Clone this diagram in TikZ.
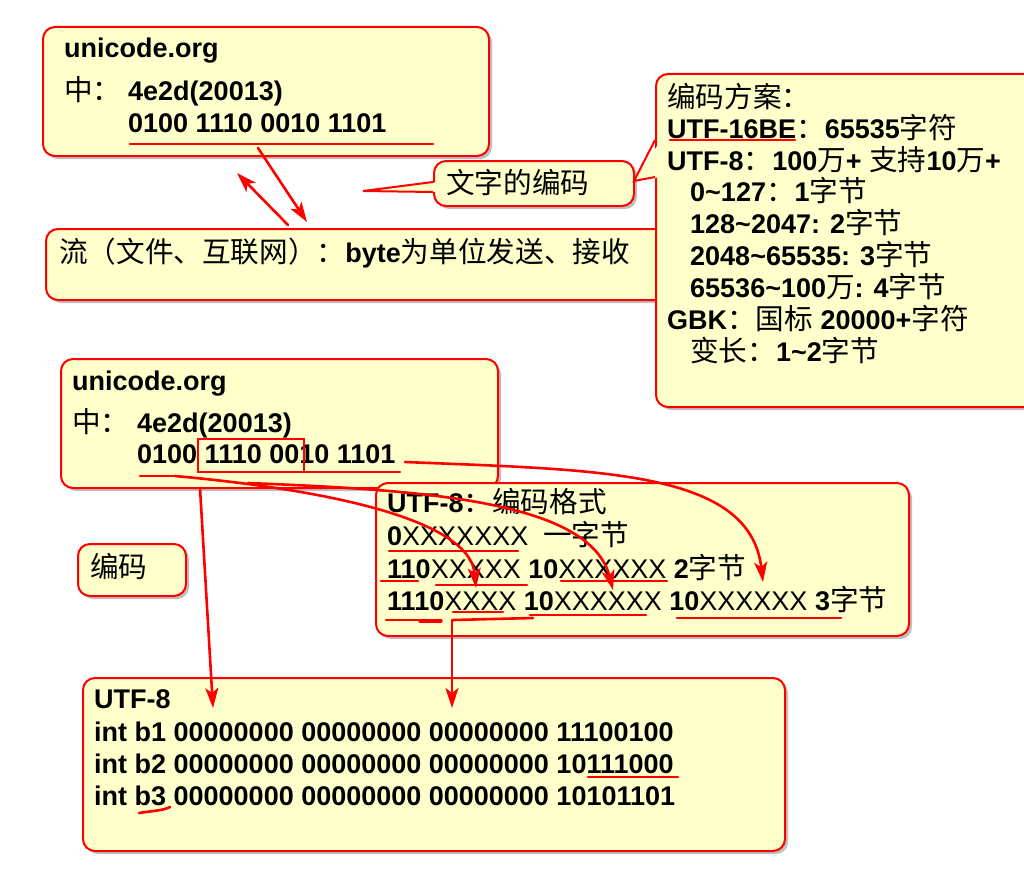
\documentclass[tikz,border=0pt]{standalone}
\usepackage{fontspec}
\setmainfont{Liberation Sans}
\newfontfamily\cjk[Scale=1.06]{Noto Sans CJK SC}
\usetikzlibrary{arrows.meta,shadows}
\definecolor{boxfill}{RGB}{255,255,204}
\newcommand\zh[1]{{\cjk\mdseries #1}}
\newcommand\rg[1]{{\mdseries #1}}
\newcommand\tld{\textasciitilde}
\newcommand\fsz{\fontsize{27pt}{32pt}\selectfont}
\tikzset{
  box/.style={draw=red, line width=2pt, fill=boxfill, rounded corners=12pt, inner sep=0pt, anchor=north west,
    drop shadow={shadow xshift=3pt, shadow yshift=-3pt, opacity=0.25, fill=black}},
  txt/.style={anchor=base west, inner sep=0pt, font=\fsz\bfseries},
  arr/.style={red, line width=2.6pt, line cap=round, -{Stealth[length=20pt,width=13pt,inset=5pt]}},
  redline/.style={red, line width=2.6pt, line cap=round},
  ptr/.style={red, line width=2pt, line join=miter},
}
\begin{document}
\begin{tikzpicture}[x=1pt,y=-1pt]
\useasboundingbox (0,0) rectangle (1024,872);
\fill[white] (0,0) rectangle (1024,872);
\clip (0,0) rectangle (1024,872);

% top unicode box
\node[box, minimum width=446pt, minimum height=129pt] (uni1) at (42,26) {};
\node[txt] (u1a) at (64,58) {unicode.org};
\node[txt] (u1b) at (64,100) {\zh{中：}};
\node[txt] (u1c) at (128,100) {4e2d(20013)};
\node[txt] (u1d) at (128,132) {0100 1110 0010 1101};
\coordinate (ul1s) at (130,144);
\coordinate (ul1e) at (433,144);
\draw[redline] (ul1s) -- (ul1e);

% stream box
\node[box, minimum width=700pt, minimum height=71pt] (flow) at (45,228) {};
\node[txt] (flowt) at (59,262) {\zh{流（文件、互联网）：}byte\zh{为单位发送、接收}};

% callout 文字的编码
\node[box, minimum width=200pt, minimum height=45pt] (enc) at (433,160) {};
\coordinate (encA) at (433,182);
\coordinate (encB) at (433,192);
\coordinate (encTip) at (363,191);
\fill[boxfill] (439,182) -- (encTip) -- (439,192) -- cycle;
\draw[ptr] (encA) -- (encTip) -- (encB);
\node[txt] (enct) at (446,193) {\zh{文字的编码}};

% right box 编码方案
\node[box, minimum width=400pt, minimum height=333pt] (scheme) at (655,73) {};
\coordinate (schA) at (655,140);
\coordinate (schB) at (655,177);
\coordinate (schTip) at (634,181);
\fill[boxfill] (661,140) -- (schTip) -- (661,177) -- cycle;
\draw[ptr] (schA) -- (schTip) -- (schB);
\node[txt] (s1) at (667,107) {\zh{编码方案：}};
\node[txt] (s2) at (667,138) {UTF-16BE\zh{：}65535\zh{字符}};
\node[txt] (s3) at (667,170) {UTF-8\zh{：}100\zh{万}+ \zh{支持}10\zh{万}+};
\node[txt] (s4) at (690,201) {0\tld127\zh{：}1\zh{字节}};
\node[txt] (s5) at (690,233) {128\tld2047: 2\zh{字节}};
\node[txt] (s6) at (690,265) {2048\tld65535: 3\zh{字节}};
\node[txt] (s7) at (690,297) {65536\tld100\zh{万}: 4\zh{字节}};
\node[txt] (s8) at (667,329) {GBK\zh{：国标} 20000+\zh{字符}};
\node[txt] (s9) at (690,361) {\zh{变长：}1\tld2\zh{字节}};
\coordinate (ul2s) at (670,140);
\coordinate (ul2e) at (795,140);
\draw[redline] (ul2s) -- (ul2e);

% top arrows
\coordinate (aAs) at (258,148);
\coordinate (aAe) at (307,222);
\coordinate (aBs) at (288,225);
\coordinate (aBe) at (237,173);
\draw[arr] (aAs) -- (aAe);
\draw[arr] (aBs) -- (aBe);

% second unicode box
\node[box, minimum width=437pt, minimum height=129pt] (uni2) at (60,358) {};
\node[txt] (u2a) at (72,390) {unicode.org};
\node[txt] (u2b) at (72,432) {\zh{中：}};
\node[txt] (u2c) at (137,432) {4e2d(20013)};
\node[txt] (u2d) at (137,463) {0100 1110 0010 1101};
\node[draw=red, line width=2.4pt, inner sep=0pt, anchor=north west, minimum width=106pt, minimum height=33pt] (hl) at (197,438) {};

% 编码 box
\node[box, minimum width=108pt, minimum height=52pt] (bm) at (77,543) {};
\node[txt] (bmt) at (90,577) {\zh{编码}};

% bottom box
\node[box, minimum width=702pt, minimum height=173pt] (bot) at (82,677) {};
\node[txt] (b0) at (94,708) {UTF-8};
\node[txt] (b1) at (94,741) {int b1 00000000 00000000 00000000 11100100};
\node[txt] (b2) at (94,773) {int b2 00000000 00000000 00000000 10111000};
\node[txt] (b3) at (94,805) {int b3 00000000 00000000 00000000 10101101};
\coordinate (ub2s) at (588,777);
\coordinate (ub2e) at (678,777);
\draw[redline] (ub2s) -- (ub2e);
\coordinate (ub3s) at (139,813);
\coordinate (ub3e) at (170,807);
\draw[redline] (ub3s) .. controls (150,811) and (162,811) .. (ub3e);

% UTF-8 format box
\node[box, minimum width=533pt, minimum height=153pt] (fmt) at (375,482) {};
\node[txt] (f0) at (387,512) {UTF-8\zh{：编码格式}};
\node[txt] (f1) at (387,545) {0\rg{XXXXXXX}\hspace{0.55em}\zh{一字节}};
\node[txt] (f2) at (387,578) {110\rg{XXXXX} 10\rg{XXXXXX} 2\zh{字节}};
\node[txt] (f3) at (387,610) {1110\rg{XXXX} 10\rg{XXXXXX} 10\rg{XXXXXX} 3\zh{字节}};

% underlines in format box
\coordinate (r1s) at (389,551); \coordinate (r1e) at (518,551);
\coordinate (r2as) at (381,581); \coordinate (r2ae) at (418,581);
\coordinate (r2bs) at (436,585); \coordinate (r2be) at (527,585);
\coordinate (r2cs) at (561,581); \coordinate (r2ce) at (667,581);
\coordinate (r3as) at (386,620); \coordinate (r3ae) at (441,620);
\coordinate (r3bs) at (453,612); \coordinate (r3be) at (503,612);
\coordinate (r3cs) at (453,620); \coordinate (r3ce) at (533,618);
\coordinate (r3ds) at (530,615); \coordinate (r3de) at (646,615);
\coordinate (r3es) at (677,618); \coordinate (r3ee) at (841,618);
\draw[redline] (r1s) -- (r1e);
\draw[redline] (r2as) -- (r2ae);
\draw[redline] (r2bs) -- (r2be);
\draw[redline] (r2cs) -- (r2ce);
\draw[redline] (r3as) -- (r3ae);
\draw[redline, line width=3.4pt] (420,621) -- (441,621);
\draw[redline] (r3bs) -- (r3be);
\draw[redline] (r3cs) -- (r3ce);
\draw[redline] (r3ds) -- (r3de);
\draw[redline] (r3es) -- (r3ee);

% underlines in second unicode box and curved arrows
\coordinate (c1a) at (140,476);
\coordinate (c1b) at (175,476);
\coordinate (c1e) at (476,588);
\draw[redline] (c1a) -- (c1b);
\draw[arr] (c1b) .. controls (330,490) and (470,520) .. (c1e);
\coordinate (c2s) at (248,483);
\coordinate (c2e) at (613,590);
\draw[arr] (c2s) .. controls (420,490) and (590,500) .. (c2e);
\coordinate (ulxs) at (305,472);
\coordinate (ulxe) at (400,472);
\draw[redline] (ulxs) -- (ulxe);
\coordinate (c3s) at (405,462);
\coordinate (c3e) at (763,582);
\draw[arr] (c3s) .. controls (600,470) and (750,470) .. (c3e);

% vertical arrows
\coordinate (v1s) at (200,488);
\coordinate (v1e) at (213,708);
\draw[arr] (v1s) -- (v1e);
\coordinate (v2s) at (452,620);
\coordinate (v2e) at (452,708);
\draw[arr] (v2s) -- (v2e);
\end{tikzpicture}
\end{document}
